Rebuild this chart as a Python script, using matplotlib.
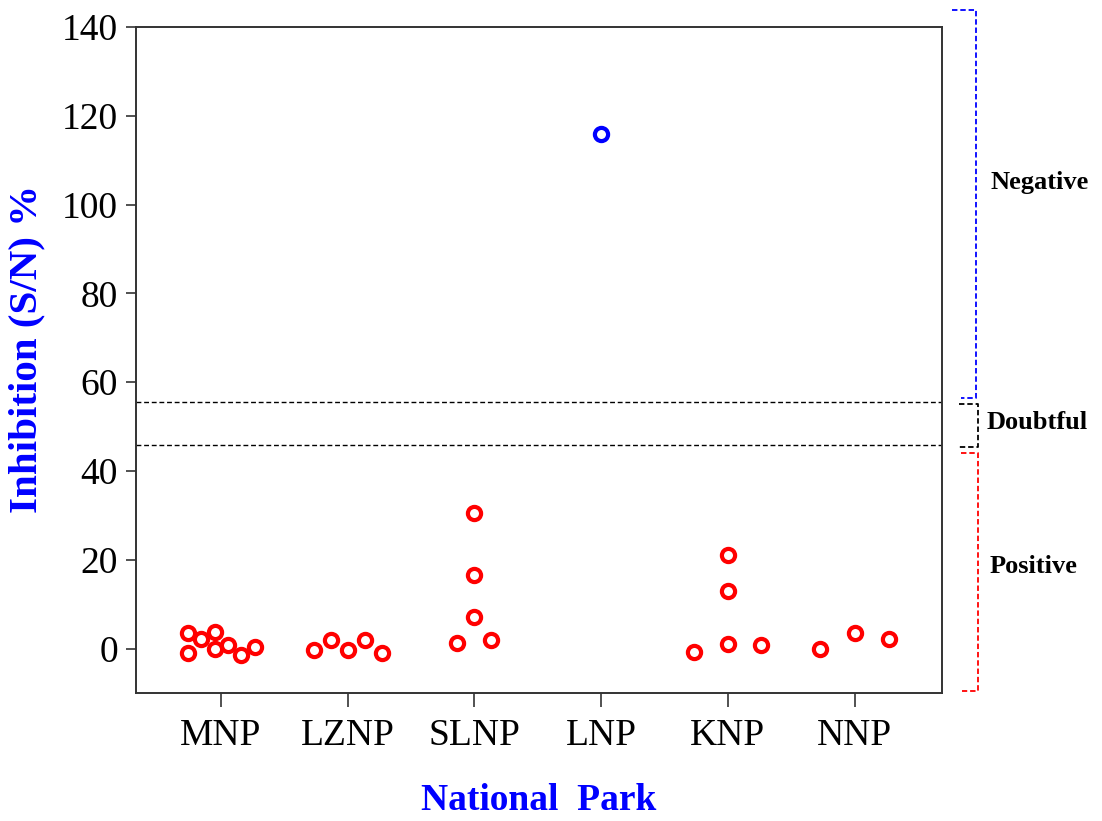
import matplotlib
matplotlib.use('Agg')
import matplotlib.pyplot as plt
from matplotlib import rcParams
import matplotlib.transforms as mtransforms

rcParams['font.family'] = ['Liberation Serif', 'DejaVu Serif']

# data
parks = ['MNP', 'LZNP', 'SLNP', 'LNP', 'KNP', 'NNP']
values = {
    'MNP':  [3.5, -1.1, 2.2, 3.8, -0.2, 0.8, -1.4, 0.3],
    'LZNP': [-0.4, 2.0, -0.3, 2.0, -1.1],
    'SLNP': [1.2, 7.2, 16.5, 30.5, 2.0],
    'LNP':  [116.0],
    'KNP':  [-0.7, 21.0, 12.9, 1.1, 0.7],
    'NNP':  [-0.2, 3.5, 2.2],
}
# horizontal spread of the points within each park
jitter = {
    'MNP':  [-0.26, -0.26, -0.16, -0.05, -0.05, 0.06, 0.16, 0.27],
    'LZNP': [-0.265, -0.134, 0.0, 0.134, 0.27],
    'SLNP': [-0.134, 0.0, 0.0, 0.0, 0.134],
    'LNP':  [0.0],
    'KNP':  [-0.27, 0.0, 0.0, 0.0, 0.265],
    'NNP':  [-0.27, 0.0, 0.268],
}
point_color = {'MNP': 'red', 'LZNP': 'red', 'SLNP': 'red', 'LNP': 'blue', 'KNP': 'red', 'NNP': 'red'}

cutoff_high = 55.5
cutoff_low = 45.8

fig = plt.figure(figsize=(11.02, 8.21), dpi=100)
ax = fig.add_axes([0.1234, 0.1559, 0.7314, 0.8112])

for i, park in enumerate(parks):
    xs = [i + j for j in jitter[park]]
    ax.plot(xs, values[park], linestyle='none', marker='o', ms=9.5, mew=3.0,
            mfc='white', mec=point_color[park], zorder=3)

ax.axhline(cutoff_high, color='black', linestyle=(0, (3.5, 2)), linewidth=1.0)
ax.axhline(cutoff_low, color='black', linestyle=(0, (3.5, 2)), linewidth=1.0)

ax.set_xlim(-0.67, 5.69)
ax.set_ylim(-10, 140)
ax.set_xticks(range(len(parks)))
ax.set_xticklabels(parks)
ax.set_yticks([0, 20, 40, 60, 80, 100, 120, 140])
ax.tick_params(axis='both', labelsize=27, direction='out', color='#333333', width=1.2)
ax.tick_params(axis='y', length=7, pad=6)
ax.tick_params(axis='x', length=10, pad=8)

for sp in ax.spines.values():
    sp.set_color('#333333')
    sp.set_linewidth(1.4)

ax.set_ylabel('Inhibition (S/N) %', color='blue', fontsize=29.5, fontweight='bold')
ax.yaxis.set_label_coords(-0.112, 0.517)
ax.set_xlabel('National  Park', color='blue', fontsize=27, fontweight='bold', labelpad=22)

# brackets on the right side
trans = mtransforms.blended_transform_factory(ax.transAxes, ax.transData)
brackets = [
    # label, top, bottom, colour, left x top, left x bottom, vertical x, text y, text x
    ('Negative', 143.8, 56.4, 'blue', 1.0124, 1.0236, 1.0422, 105.0, 1.1216),
    ('Doubtful', 55.0, 45.3, 'black', 1.021, 1.021, 1.0447, 51.0, 1.118),
    ('Positive', 44.0, -9.5, 'red', 1.0236, 1.0248, 1.0447, 18.5, 1.113),
]
for label, ytop, ybot, col, xl_top, xl_bot, xv, ytxt, xtxt in brackets:
    ax.plot([xl_top, xv, xv, xl_bot], [ytop, ytop, ybot, ybot], transform=trans,
            color=col, linestyle=(0, (3, 1.6)), linewidth=1.3, clip_on=False)
    ax.text(xtxt, ytxt, label, transform=trans, ha='center', va='center',
            fontsize=19, fontweight='bold', color='black')

fig.savefig('out.png', dpi=100)
